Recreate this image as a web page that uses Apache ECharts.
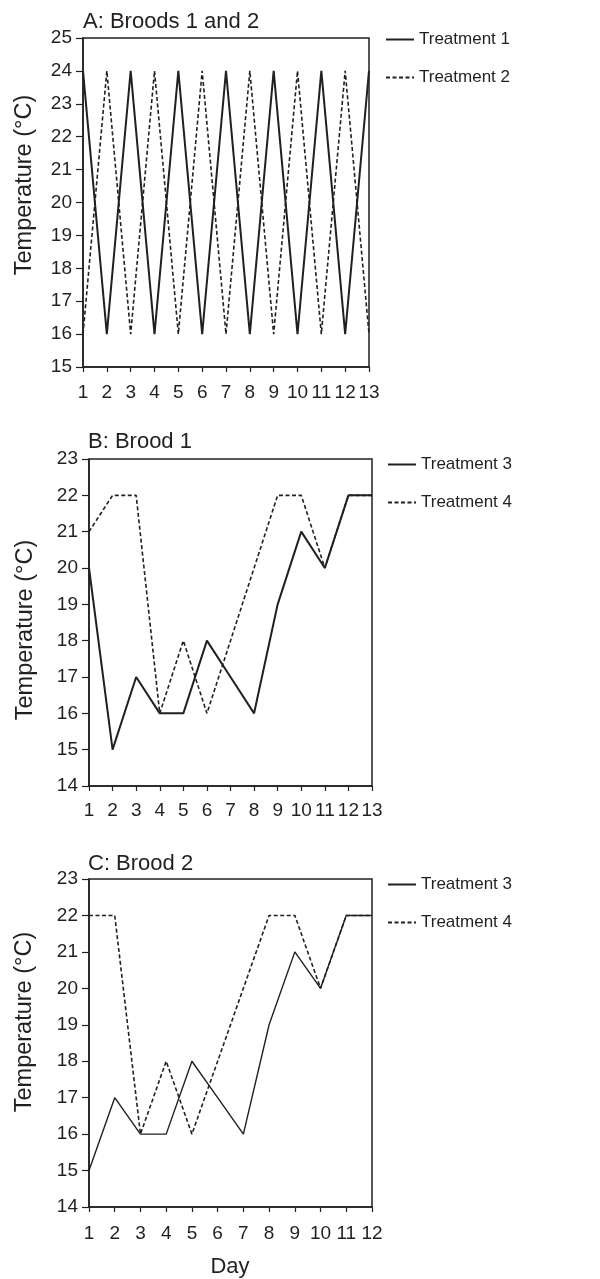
<!DOCTYPE html>
<html>
<head>
<meta charset="utf-8">
<script src="https://cdn.jsdelivr.net/npm/echarts@6/dist/echarts.min.js"></script>
<style>html,body{margin:0;padding:0;background:#fff}#c{width:600px;height:1279px}</style>
</head>
<body>
<div id="c"></div>
<script>
// ---- data ----
const daysA = [1,2,3,4,5,6,7,8,9,10,11,12,13];
const daysB = [1,2,3,4,5,6,7,8,9,10,11,12,13];
const daysC = [1,2,3,4,5,6,7,8,9,10,11,12];
const treatment1A = [24,16,24,16,24,16,24,16,24,16,24,16,24];
const treatment2A = [16,24,16,24,16,24,16,24,16,24,16,24,16];
const treatment3B = [20,15,17,16,16,18,17,16,19,21,20,22,22];
const treatment4B = [21,22,22,16,18,16,18,20,22,22,20,22,22];
const treatment3C = [15,17,16,16,18,17,16,19,21,20,22,22];
const treatment4C = [22,22,16,18,16,18,20,22,22,20,22,22];
const panelTitles = ['A: Broods 1 and 2','B: Brood 1','C: Brood 2'];
const legendA = ['Treatment 1','Treatment 2'];
const legendBC = ['Treatment 3','Treatment 4'];
const yName = 'Temperature (\u00B0C)';
const xName = 'Day';

// ---- style ----
const INK = '#231f20';
const FONT = '"Liberation Sans", Arial, Helvetica, sans-serif';
const pairs = (xs, ys) => xs.map((x, i) => [x, ys[i]]);

const grids = [
  {left: 83, top: 38, width: 286, height: 329},
  {left: 89, top: 459, width: 283, height: 327},
  {left: 89, top: 879, width: 283, height: 328}
].map(g => Object.assign(g, {show: true, borderColor: INK, borderWidth: 1.5, backgroundColor: 'transparent'}));

function xAx(i, max, margin) {
  return {
    type: 'value', gridIndex: i, min: 1, max: max, interval: 1,
    axisLine: {show: true, lineStyle: {color: INK, width: 1.5}},
    axisTick: {show: true, length: 5, lineStyle: {color: INK, width: 1.2}},
    axisLabel: {color: INK, fontSize: 19, fontFamily: FONT, margin: margin},
    splitLine: {show: false}
  };
}
function yAx(i, min, max) {
  return {
    type: 'value', gridIndex: i, min: min, max: max, interval: 1,
    axisLine: {show: true, lineStyle: {color: INK, width: 1.5}},
    axisTick: {show: true, length: 7, lineStyle: {color: INK, width: 1.2}},
    axisLabel: {color: INK, fontSize: 19, fontFamily: FONT, margin: 11},
    splitLine: {show: false}
  };
}
function ser(name, i, xs, ys, dashed, w) {
  return {
    name: name, type: 'line', xAxisIndex: i, yAxisIndex: i,
    data: pairs(xs, ys), symbol: 'none', showSymbol: false, silent: true,
    lineStyle: {color: INK, width: w, type: dashed ? [4, 2.5] : 'solid'},
    itemStyle: {color: INK}
  };
}
function leg(id, names, left, top) {
  return {
    id: id, show: true, orient: 'vertical', left: left, top: top,
    data: names.map(n => ({name: n})),
    itemWidth: 28, itemHeight: 14, itemGap: 21, padding: 0,
    selectedMode: false,
    itemStyle: {color: 'transparent', borderWidth: 0, opacity: 0},
    textStyle: {color: INK, fontSize: 17, fontFamily: FONT}
  };
}

const option = {
  animation: false,
  backgroundColor: '#fff',
  grid: grids,
  xAxis: [xAx(0, 13, 16), xAx(1, 13, 15), xAx(2, 12, 17)],
  yAxis: [yAx(0, 15, 25), yAx(1, 14, 23), yAx(2, 14, 23)],
  legend: [
    leg('la', legendA, 385, 31),
    leg('lb', legendBC, 387, 456),
    leg('lc', legendBC, 387, 876)
  ],
  series: [
    ser(legendA[0], 0, daysA, treatment1A, false, 2),
    ser(legendA[1], 0, daysA, treatment2A, true, 1.6),
    ser(legendBC[0], 1, daysB, treatment3B, false, 2),
    ser(legendBC[1], 1, daysB, treatment4B, true, 1.6),
    ser(legendBC[0], 2, daysC, treatment3C, false, 1.4),
    ser(legendBC[1], 2, daysC, treatment4C, true, 1.6)
  ],
  graphic: [
    {type: 'text', x: 83, y: 22, style: {text: panelTitles[0], font: '22px ' + FONT, fill: INK, align: 'left', verticalAlign: 'middle'}},
    {type: 'text', x: 88, y: 442, style: {text: panelTitles[1], font: '22px ' + FONT, fill: INK, align: 'left', verticalAlign: 'middle'}},
    {type: 'text', x: 88, y: 864, style: {text: panelTitles[2], font: '22px ' + FONT, fill: INK, align: 'left', verticalAlign: 'middle'}},
    {type: 'text', x: 25, y: 185, rotation: Math.PI / 2, style: {text: yName, font: '23.5px ' + FONT, fill: INK, align: 'center', verticalAlign: 'middle'}},
    {type: 'text', x: 26, y: 630, rotation: Math.PI / 2, style: {text: yName, font: '23.5px ' + FONT, fill: INK, align: 'center', verticalAlign: 'middle'}},
    {type: 'text', x: 25, y: 1022, rotation: Math.PI / 2, style: {text: yName, font: '23.5px ' + FONT, fill: INK, align: 'center', verticalAlign: 'middle'}},
    {type: 'text', x: 230, y: 1267, style: {text: xName, font: '22px ' + FONT, fill: INK, align: 'center', verticalAlign: 'middle'}}
  ]
};
const chart = echarts.init(document.getElementById('c'), null, {renderer: 'canvas'});
chart.setOption(option);
</script>
</body>
</html>
